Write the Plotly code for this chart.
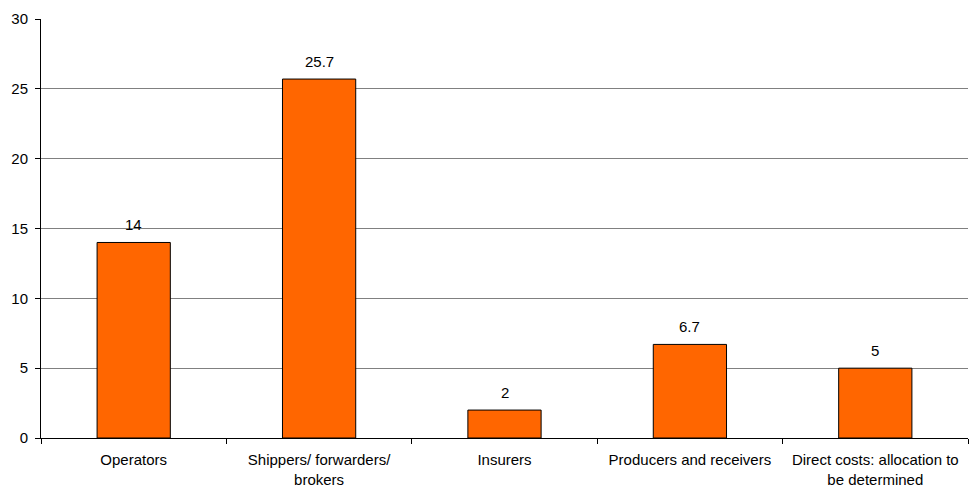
import plotly.graph_objects as go

categories = ["Operators", "Shippers/ forwarders/<br>brokers", "Insurers",
              "Producers and receivers", "Direct costs: allocation to<br>be determined"]
values = [14, 25.7, 2, 6.7, 5]
labels = ["14", "25.7", "2", "6.7", "5"]
yticks = [0, 5, 10, 15, 20, 25, 30]

FONT = "Liberation Sans, Arial"

fig = go.Figure(go.Bar(
    x=categories, y=values,
    marker=dict(color="#FF6600", line=dict(color="black", width=1)),
    width=0.395,
))
for c, v, t in zip(categories, values, labels):
    fig.add_annotation(x=c, y=v, text=t, showarrow=False, yanchor="bottom",
                       yshift=7, font=dict(family=FONT, size=15, color="black"))
fig.update_layout(
    width=973, height=490,
    margin=dict(l=41, r=5, t=19, b=52),
    plot_bgcolor="white", paper_bgcolor="white",
    font=dict(family=FONT, size=15, color="black"),
    showlegend=False,
)
fig.update_xaxes(type="category", tickson="boundaries", ticks="outside", ticklen=5,
                 tickcolor="black", showline=True, linecolor="black", linewidth=1,
                 showgrid=False, tickfont=dict(size=15), automargin=False,
                 ticklabelstandoff=8)
fig.update_yaxes(range=[0, 30], tickvals=yticks, ticks="outside", ticklen=5,
                 tickcolor="black", showline=True, linecolor="black", linewidth=1,
                 showgrid=True, gridcolor="#808080", gridwidth=1, zeroline=False,
                 tickfont=dict(size=15), automargin=False, ticklabelstandoff=4)
fig.write_html("out.html")
